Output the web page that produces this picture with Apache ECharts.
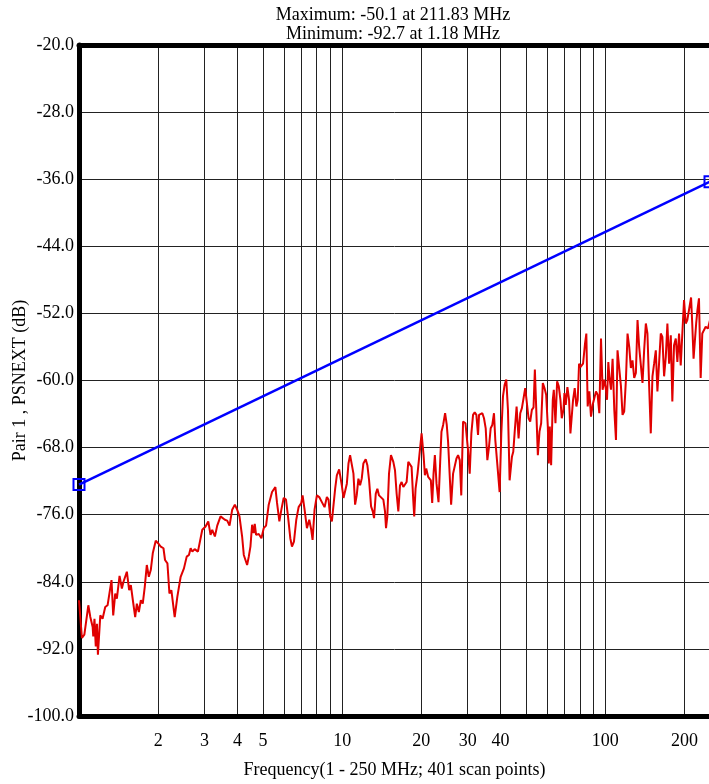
<!DOCTYPE html>
<html>
<head>
<meta charset="utf-8">
<script src="https://cdn.jsdelivr.net/npm/echarts@6/dist/echarts.min.js"></script>
<style>
html,body{margin:0;padding:0;background:#fff;}
#chart{width:709px;height:784px;}
</style>
</head>
<body>
<div id="chart"></div>
<script>
// Frequency (MHz) of the measured PSNEXT trace
const freq = [
1.000,1.026,1.048,1.063,1.085,1.104,1.127,1.133,1.145,1.158,1.170,1.180,1.205,1.229,1.258,1.284,1.303,1.329,1.349,1.373,
1.393,1.426,1.455,1.476,1.494,1.520,1.551,1.574,1.602,1.635,1.659,1.688,1.718,1.747,1.778,1.810,1.842,1.874,1.907,1.957,
1.997,2.045,2.094,2.123,2.168,2.206,2.244,2.310,2.364,2.434,2.505,2.566,2.617,2.656,2.696,2.751,2.831,
2.941,3.027,3.099,3.162,3.209,3.284,3.352,3.451,3.502,3.584,3.658,3.733,3.821,3.911,3.990,4.072,4.168,4.229,4.291,4.354,
4.418,4.482,4.548,4.614,4.655,4.709,4.820,4.935,5.035,5.139,5.260,5.415,5.575,5.657,5.774,5.875,5.995,6.118,6.227,6.353,
6.446,6.559,6.694,6.832,6.993,7.075,7.199,7.348,7.499,7.631,7.720,7.856,8.017,8.183,8.375,8.573,8.749,8.877,9.006,
9.141,9.408,9.546,9.741,9.827,9.971,10.12,10.26,10.42,10.57,10.72,10.88,11.04,11.20,11.36,11.53,11.70,11.87,12.04,12.29,
12.47,12.66,12.88,13.07,13.22,13.42,13.61,13.81,14.05,14.34,14.55,14.68,14.85,15.07,15.33,15.65,15.88,16.11,16.35,16.59,
16.83,17.08,17.32,17.58,17.84,18.10,18.36,18.63,18.79,19.01,19.34,19.63,20.04,20.39,20.63,20.87,21.23,21.73,21.99,22.25,
22.51,22.84,23.24,23.58,23.85,24.20,24.62,24.98,25.27,25.64,25.95,26.40,26.79,27.19,27.58,27.99,
28.36,28.81,29.42,30.09,30.53,30.98,31.44,31.90,32.37,32.84,33.13,33.62,34.11,34.60,35.12,35.63,36.15,36.68,37.21,37.76,
38.20,38.76,39.67,40.26,40.85,41.45,42.05,42.67,43.29,44.18,44.70,45.22,46.02,46.83,47.52,48.21,48.92,49.63,50.35,51.10,
51.84,52.60,53.38,54.00,54.63,55.43,56.23,57.06,57.89,58.74,59.61,60.48,61.01,61.53,62.26,63.17,63.73,64.66,65.61,66.57,
67.54,68.33,69.34,69.94,70.75,71.79,72.85,73.70,74.34,75.43,76.54,77.66,78.57,79.50,80.43,81.36,82.32,83.75,84.72,85.72,
86.97,88.25,89.54,90.85,92.19,93.51,94.91,96.32,97.68,99.13,100.6,101.5,102.7,103.6,105.1,106.6,108.2,109.8,111.3,113.0,
114.7,116.3,118.0,119.8,121.5,123.3,125.1,126.9,128.8,130.7,132.6,134.5,136.5,138.5,140.5,142.6,144.6,146.8,148.9,151.1,
153.3,155.6,157.8,160.2,162.5,164.8,167.3,169.8,172.2,174.8,177.4,179.8,182.5,185.3,187.9,190.7,193.5,196.3,199.2,202.2,
205.0,211.83,214.0,216.5,219.0,221.5,224.0,227.0,230.4,233.7,237.1,240.7,245.6,250.0
];
// Measured PSNEXT (dB)
const psnext = [
-86.2,-90.7,-90.3,-90.5,-86.8,-88.2,-89.4,-90.5,-88.4,-91.7,-89.0,-92.7,-88.0,-88.4,-87.0,-86.8,-87.0,-83.8,-88.0,-85.4,
-86.0,-83.3,-84.8,-84.0,-84.2,-82.8,-85.0,-84.4,-86.2,-88.2,-86.6,-87.6,-86.2,-86.6,-84.6,-82.0,-83.4,-82.6,-80.6,-79.1,
-79.4,-79.8,-80.0,-81.4,-81.8,-85.4,-85.0,-88.2,-85.8,-83.4,-82.4,-81.0,-80.8,-80.0,-80.4,-80.1,-80.4,
-77.8,-77.4,-76.8,-78.4,-77.8,-78.6,-77.3,-76.2,-76.4,-76.6,-76.7,-77.3,-75.4,-74.8,-75.4,-76.2,-78.6,-80.8,-80.9,-82.0,
-81.0,-79.8,-77.2,-78.2,-77.1,-78.4,-78.3,-78.8,-77.6,-77.3,-74.8,-73.3,-72.7,-74.6,-76.8,-75.4,-74.0,-74.2,-76.2,-78.8,
-79.8,-79.2,-76.6,-75.1,-74.6,-73.7,-75.4,-77.6,-76.6,-77.8,-79.0,-75.4,-73.7,-73.9,-74.5,-75.1,-73.9,-74.2,-76.2,
-76.8,-72.9,-71.3,-70.6,-70.5,-72.5,-74.0,-73.9,-72.3,-69.9,-68.9,-69.1,-71.1,-74.8,-73.7,-71.7,-72.5,-71.7,-69.9,-69.4,
-70.1,-71.9,-75.0,-75.6,-76.4,-73.5,-72.9,-73.7,-73.7,-74.2,-75.6,-77.6,-76.2,-71.1,-68.9,-69.7,-70.7,-73.5,-75.6,-72.5,
-72.1,-72.7,-72.5,-72.1,-69.7,-69.5,-70.3,-74.2,-76.2,-72.9,-71.1,-69.1,-66.3,-68.9,-71.3,-70.5,-71.5,-71.9,-74.6,-71.1,
-68.9,-72.3,-74.5,-69.7,-66.1,-65.3,-63.9,-65.3,-67.3,-67.5,-74.8,-71.1,-71.1,-69.3,-68.9,-69.5,
-73.7,-64.9,-65.1,-68.3,-71.1,-66.3,-64.1,-63.8,-64.1,-66.5,-64.1,-64.3,-63.9,-64.5,-65.7,-69.5,-67.9,-65.7,-65.3,-63.9,
-67.1,-69.5,-73.3,-66.3,-61.9,-60.5,-59.9,-63.5,-71.9,-69.1,-68.5,-66.3,-63.1,-66.9,-63.9,-63.3,-63.1,-60.9,-60.9,-64.5,
-64.9,-63.5,-63.2,-58.7,-58.7,-68.9,-66.1,-65.1,-60.3,-60.9,-61.7,-65.5,-69.9,-65.5,-70.1,-62.3,-61.1,-65.1,-60.1,-60.7,
-62.3,-64.5,-63.5,-61.5,-62.9,-60.8,-62.3,-66.3,-66.3,-62.3,-60.9,-63.1,-62.3,-58.0,-58.4,-58.4,-58.0,-55.6,-54.4,-63.1,
-61.3,-64.3,-62.9,-62.7,-61.3,-61.7,-63.9,-55.0,-61.1,-59.9,-61.1,-62.3,-57.8,-59.5,-61.1,-57.4,-63.5,-67.1,-56.4,-56.6,
-60.7,-64.1,-63.7,-59.9,-54.4,-56.0,-58.5,-57.6,-59.7,-59.1,-52.8,-56.0,-56.0,-60.3,-56.4,-53.2,-54.4,-60.7,-66.3,-59.5,
-58.0,-56.4,-61.3,-57.8,-54.4,-54.8,-59.5,-57.2,-53.2,-58.0,-54.6,-62.5,-55.8,-55.0,-57.8,-54.4,-58.2,-58.0,-50.4,-53.2,
-52.8,-50.1,-53.2,-57.4,-57.6,-53.2,-51.6,-50.2,-59.7,-54.4,-54.0,-53.6,-53.8,-52.8
];
// Limit line (dB) at its end points
const limitFreq = [1, 250];
const limitVal = [-72.4, -36.3];
// Axis ticks
const xGridVals = [2,3,4,5,6,7,8,9,10,20,30,40,50,60,70,80,90,100,200];
const xLabelVals = [2,3,4,5,10,20,30,40,100,200];
const yTickVals = [-100,-92,-84,-76,-68,-60,-52,-44,-36,-28,-20];
const titleLines = ['Maximum: -50.1 at 211.83 MHz', 'Minimum: -92.7 at 1.18 MHz'];
const xName = 'Frequency(1 - 250 MHz; 401 scan points)';
const yName = 'Pair 1 , PSNEXT (dB)';

const FONT = '"Liberation Serif", "Times New Roman", serif';
const FS = 18;

const chart = echarts.init(document.getElementById('chart'), null, {renderer: 'canvas'});
const gridL = 79, gridT = 45, gridW = 631, gridH = 671;
chart.setOption({
  backgroundColor: '#ffffff',
  animation: false,
  grid: {left: gridL, top: gridT, width: gridW, height: gridH, containLabel: false, outerBoundsMode: 'none'},
  graphic: titleLines.map((t, i) => ({
    type: 'text', x: 393, y: 15 + i * 19, z: 10,
    style: {text: t, align: 'center', verticalAlign: 'middle', fontFamily: FONT, fontSize: FS, fill: '#000'}
  })),
  xAxis: [{
    type: 'log', logBase: 10, min: 1, max: 250, position: 'bottom',
    axisLine: {onZero: false, lineStyle: {color: '#000', width: 5}},
    axisTick: {show: false, customValues: xGridVals},
    splitLine: {show: true, lineStyle: {color: '#222', width: 1}},
    axisLabel: {customValues: xLabelVals, color: '#000', fontFamily: FONT, fontSize: FS, margin: 16,
      formatter: v => String(Math.round(v))},
    name: xName, nameLocation: 'middle', nameGap: 45, nameMoveOverlap: false,
    nameTextStyle: {color: '#000', fontFamily: FONT, fontSize: FS}
  }, {
    type: 'log', logBase: 10, min: 1, max: 250, position: 'top',
    axisLine: {onZero: false, lineStyle: {color: '#000', width: 5}},
    axisTick: {show: false}, axisLabel: {show: false}, splitLine: {show: false}
  }],
  yAxis: {
    type: 'value', min: -100, max: -20,
    axisLine: {show: true, onZero: false, lineStyle: {color: '#000', width: 5}},
    axisTick: {show: false, customValues: yTickVals},
    splitLine: {show: true, lineStyle: {color: '#222', width: 1}},
    axisLabel: {customValues: yTickVals, color: '#000', fontFamily: FONT, fontSize: FS, margin: 5,
      formatter: v => v.toFixed(1)},
    name: yName, nameLocation: 'middle', nameGap: 50, nameRotate: 90, nameMoveOverlap: false,
    nameTextStyle: {color: '#000', fontFamily: FONT, fontSize: FS}
  },
  series: [{
    name: 'PSNEXT', type: 'line', xAxisIndex: 0,
    data: freq.map((f, i) => [f, psnext[i]]),
    showSymbol: false, symbol: 'none', z: 3,
    lineStyle: {color: '#e00000', width: 2}
  }, {
    name: 'Limit', type: 'line', xAxisIndex: 0, clip: false,
    data: limitFreq.map((f, i) => [f, limitVal[i]]),
    symbol: 'rect', symbolSize: 11, showSymbol: true, z: 4,
    itemStyle: {color: 'rgba(0,0,0,0)', borderColor: '#0000ff', borderWidth: 2},
    lineStyle: {color: '#0000ff', width: 2.5}
  }]
});
</script>
</body>
</html>
